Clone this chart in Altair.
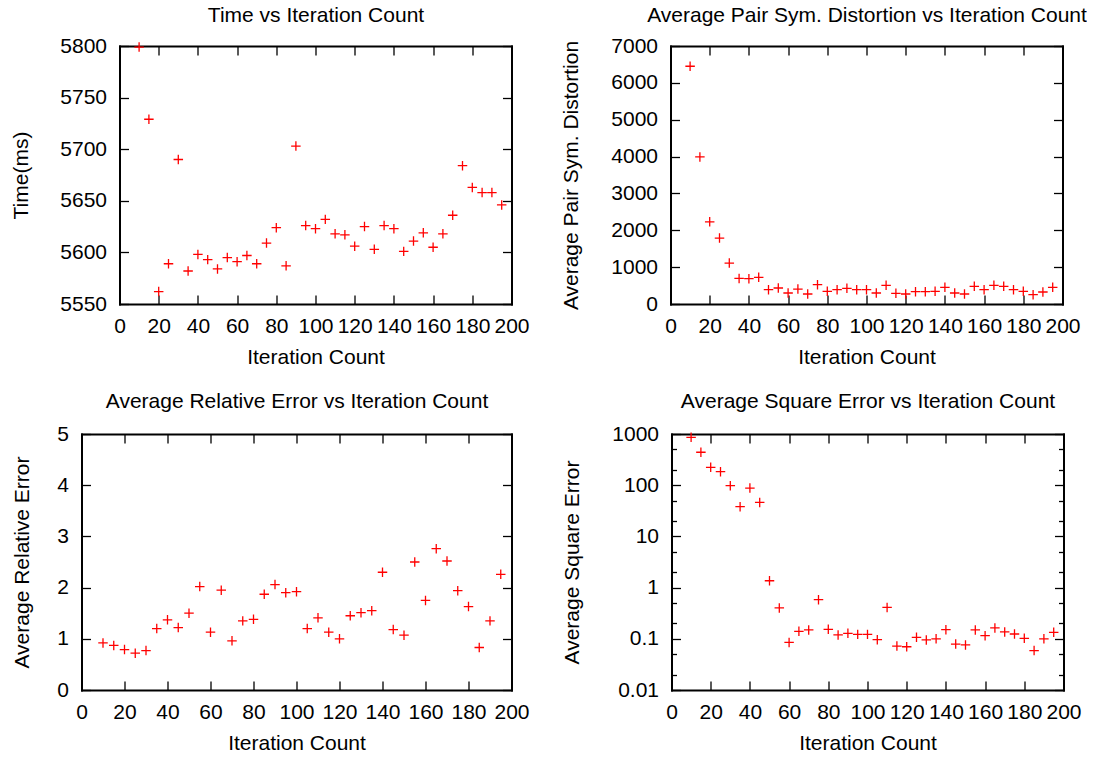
import altair as alt
import pandas as pd

# ---- data ----
iterations = [10, 15, 20, 25, 30, 35, 40, 45, 50, 55, 60, 65, 70, 75, 80, 85, 90, 95,
              100, 105, 110, 115, 120, 125, 130, 135, 140, 145, 150, 155, 160, 165,
              170, 175, 180, 185, 190, 195]
time_ms = [5799, 5729, 5562, 5589, 5690, 5582, 5598, 5593, 5584, 5595, 5591, 5597,
           5589, 5609, 5624, 5587, 5703, 5626, 5623, 5632, 5618, 5617, 5606, 5625,
           5603, 5626, 5623, 5601, 5611, 5619, 5605, 5618, 5636, 5684, 5663, 5658,
           5658, 5646]
distortion = [6450, 3990, 2230, 1790, 1110, 695, 686, 723, 388, 434, 298, 406, 271,
              524, 343, 388, 425, 388, 388, 298, 506, 289, 271, 334, 334, 343, 452,
              298, 271, 479, 388, 506, 479, 388, 343, 253, 325, 452]
rel_err = [0.92, 0.87, 0.79, 0.72, 0.77, 1.20, 1.37, 1.22, 1.50, 2.02, 1.13, 1.95,
           0.96, 1.35, 1.38, 1.87, 2.06, 1.90, 1.92, 1.20, 1.41, 1.13, 1.00, 1.45,
           1.51, 1.55, 2.30, 1.18, 1.07, 2.50, 1.75, 2.76, 2.52, 1.94, 1.63, 0.83,
           1.35, 2.26]
sq_err = [860, 440, 223, 184, 98, 38, 88, 46, 1.36, 0.40, 0.085, 0.14, 0.149, 0.58,
          0.153, 0.119, 0.128, 0.122, 0.122, 0.096, 0.41, 0.072, 0.070, 0.107, 0.095,
          0.100, 0.151, 0.079, 0.076, 0.149, 0.115, 0.163, 0.136, 0.124, 0.102, 0.059,
          0.100, 0.134]

x_ticks = [0, 20, 40, 60, 80, 100, 120, 140, 160, 180, 200]
time_ticks = [5550, 5600, 5650, 5700, 5750, 5800]
dist_ticks = [0, 1000, 2000, 3000, 4000, 5000, 6000, 7000]
rel_ticks = [0, 1, 2, 3, 4, 5]
sq_ticks = [0.01, 0.1, 1, 10, 100, 1000]
sq_minor = [0.02, 0.05, 0.2, 0.5, 2, 5, 20, 50, 200, 500]

df = pd.DataFrame({"iter": iterations, "time": time_ms, "dist": distortion,
                   "rel": rel_err, "sq": sq_err})

FONT = "Liberation Sans"
FS = 21
TICK = 9
PLUS = "M-1,0L1,0M0,-1L0,1"


def tick_axis(orient, values, off, size=TICK, **kw):
    return alt.Axis(orient=orient, values=values, offset=off, tickSize=size,
                    domain=False, minExtent=0, maxExtent=0, labelFlush=False,
                    labelOverlap=False, titleLimit=1000, **kw)


def frame_axis(orient, off=0):
    return alt.Axis(orient=orient, offset=off, domain=True, ticks=False,
                    labels=False, title=None, minExtent=0, maxExtent=0,
                    domainColor="black", domainWidth=2, domainCap="square")


def panel(field, ytitle, title, ydomain, yticks, width, height, ytp, ttp,
          shift=0, log=False, minor=None, fmt="d"):
    if log:
        yscale = alt.Scale(domain=ydomain, type="log", nice=False)
    else:
        yscale = alt.Scale(domain=ydomain, nice=False, zero=False)
    xscale = alt.Scale(domain=[0, 200], range=[-shift, width], nice=False)
    base = alt.Chart(df)
    X = lambda axis: alt.X("iter:Q", scale=xscale, axis=axis)
    Y = lambda axis: alt.Y(field + ":Q", scale=yscale, axis=axis)

    main = base.mark_point(shape=PLUS, size=90, filled=False, color="#ff0000",
                           strokeWidth=1.3, opacity=1).encode(
        x=X(tick_axis("bottom", x_ticks, -TICK, labels=True, labelPadding=11,
                      title="Iteration Count", titlePadding=51.4, format="d")),
        y=Y(tick_axis("left", yticks, shift - TICK, labels=True, labelPadding=13,
                      title=ytitle, titlePadding=ytp, format=fmt)),
    )
    mirror = base.mark_point(opacity=0).encode(
        x=X(tick_axis("top", x_ticks, -TICK, labels=False, title=title,
                      titlePadding=ttp, titleBaseline="alphabetic")),
        y=Y(tick_axis("right", yticks, -TICK, labels=False, title=None)),
    )
    frame1 = base.mark_point(opacity=0).encode(
        x=X(frame_axis("bottom")), y=Y(frame_axis("left", shift)))
    frame2 = base.mark_point(opacity=0).encode(
        x=X(frame_axis("top")), y=Y(frame_axis("right")))
    layers = [main, mirror, frame1, frame2]
    if minor is not None:
        for side, off in [("left", shift - 5), ("right", -5)]:
            layers.append(base.mark_point(opacity=0).encode(
                x=X(None),
                y=Y(tick_axis(side, minor, off, size=5, labels=False, title=None)),
            ))
    return alt.layer(*layers).resolve_axis(x="independent", y="independent").properties(
        width=width, height=height)


p1 = panel("time", "Time(ms)", "Time vs Iteration Count", [5550, 5800], time_ticks,
           392, 258, 97.5, 33.5)
p2 = panel("dist", "Average Pair Sym. Distortion",
           "Average Pair Sym. Distortion vs Iteration Count", [0, 7000], dist_ticks,
           392, 258, 97.6, 33.5)
p3 = panel("rel", "Average Relative Error", "Average Relative Error vs Iteration Count",
           [0, 5], rel_ticks, 392, 256, 58.4, 35.5, shift=38)
p4 = panel("sq", "Average Square Error", "Average Square Error vs Iteration Count",
           [0.01, 1000], sq_ticks, 392, 256, 98.5, 35.5, log=True, minor=sq_minor,
           fmt="~g")

chart = alt.vconcat(
    alt.hconcat(p1, p2, spacing=31),
    alt.hconcat(p3, p4, spacing=11),
    spacing=22,
).properties(
    padding={"left": 9.5, "top": 4, "right": 0, "bottom": 0}
).configure(
    font=FONT, background="white"
).configure_axis(
    labelFont=FONT, titleFont=FONT, labelFontSize=FS, titleFontSize=FS,
    titleFontWeight="normal", labelColor="black", titleColor="black",
    tickColor="black", tickWidth=1.3, grid=False,
).configure_view(
    stroke=None,
)

chart.save("out.html", embed_options={"renderer": "svg", "actions": False})
